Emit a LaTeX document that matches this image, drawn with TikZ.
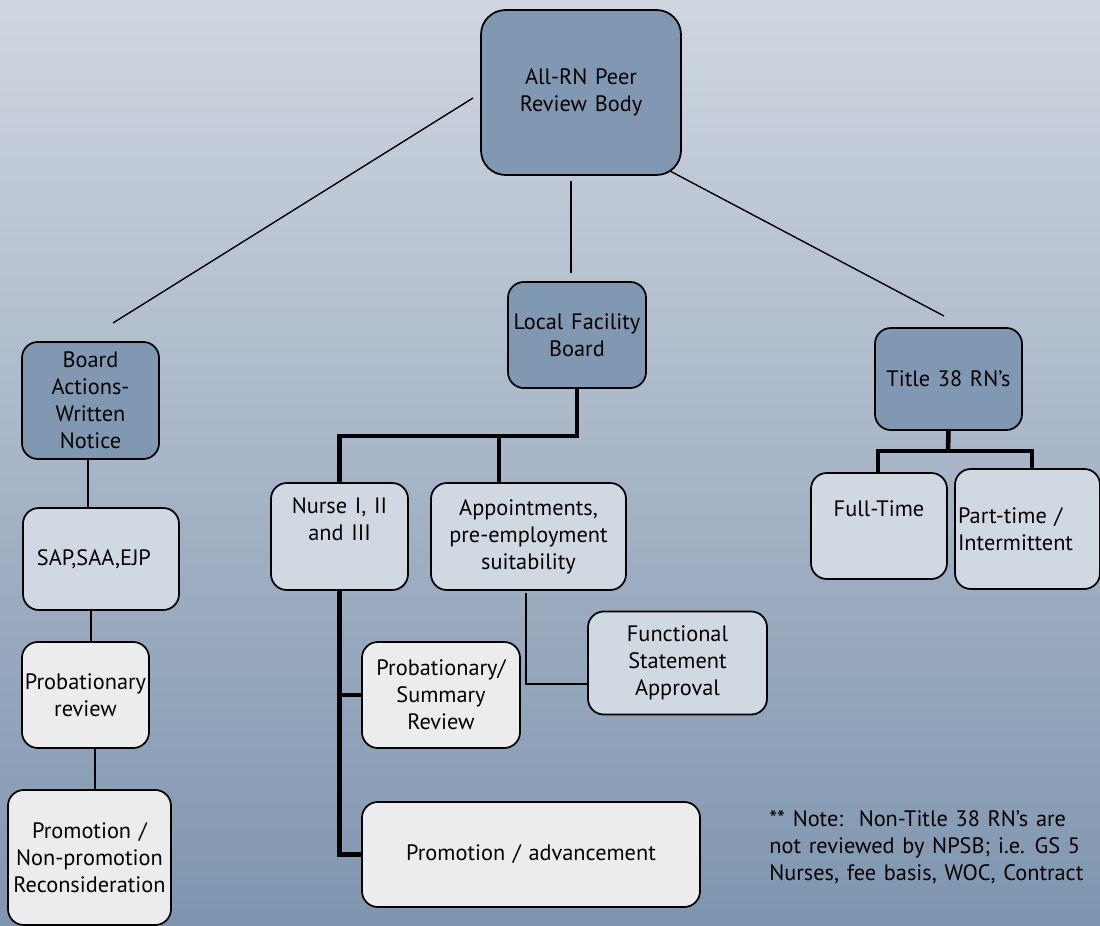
\documentclass[tikz,border=0pt]{standalone}
\usepackage{fontspec}
\setmainfont{PT Sans}[WordSpace=1.3]
\usepackage{tikz}
\usetikzlibrary{positioning}

\definecolor{bgtop}{HTML}{CFD6E0}
\definecolor{bgbot}{HTML}{7F95AF}
\definecolor{darkbox}{HTML}{8098B1}
\definecolor{lightbox}{HTML}{D0D8E2}
\definecolor{palebox}{HTML}{ECECEC}

\tikzset{
  box/.style={draw=black, line width=1pt, rounded corners=9pt, align=center,
    inner sep=0pt, font=\fontsize{12.7}{15.3}\selectfont},
  sz/.style 2 args={minimum width=#1*0.02cm, minimum height=#2*0.02cm},
  darkb/.style={box, fill=darkbox},
  lightb/.style={box, fill=lightbox},
  paleb/.style={box, fill=palebox},
  thin link/.style={draw=black, line width=0.8pt},
  thick link/.style={draw=black, line width=2.6pt}
}

\begin{document}
\begin{tikzpicture}[x=0.02cm, y=-0.02cm]
		\shade[top color=bgtop, bottom color=bgbot] (0,0) rectangle (1100,926);
		\useasboundingbox (0,0) rectangle (1100,926);

		% boxes
		\node[darkb, sz={200}{165}, rounded corners=14pt] (body) at (581,92.5) {All-RN Peer\\Review Body};
		\node[darkb, sz={137}{117}] (board) at (90.5,400.5) {Board\\Actions-\\Written\\Notice};
		\node[lightb, sz={156}{102}] (sap) at (101,559) {SAP,SAA,EJP\hspace{8pt}};
		\node[paleb, sz={127}{106}] (probrev) at (85.5,695) {Probationary\\review};
		\node[paleb, sz={163}{135}] (promo) at (89.5,857.5) {Promotion /\\Non-promotion\\Reconsideration};

		\node[darkb, sz={138}{106}] (lfb) at (577,335) {Local Facility\\Board};
		\node[lightb, sz={137}{107}] (nurse) at (339.5,536.5) {Nurse I, II\\and III\\\strut};
		\node[lightb, sz={195}{107}] (appt) at (528.5,536.5) {Appointments,\\pre-employment\\suitability};
		\node[lightb, sz={179}{103}] (func) at (677.5,663) {Functional\\Statement\\Approval};
		\node[paleb, sz={158}{106}] (psr) at (441,695) {Probationary/\\Summary\\Review};
		\node[paleb, sz={338}{105}] (adv) at (531,854.5) {Promotion / advancement};

		\node[darkb, sz={147}{102}] (title) at (948.5,379) {Title 38 RN's};
		\node[lightb, sz={136}{106}] (full) at (879,526) {Full-Time\\\strut};
		\node[lightb, sz={145}{120}, align=left, text width=139*0.02cm, inner xsep=3*0.02cm] (part) at (1027.5,529) {Part-time /\\Intermittent};

		\node[anchor=north west, align=left, inner sep=0pt, font=\fontsize{12.7}{15.3}\selectfont] (note) at (769,810)
			{** Note:\ \ Non-Title 38 RN's are\\not reviewed by NPSB; i.e. GS 5\\Nurses, fee basis, WOC, Contract};

		% free ends of the top lines
		\coordinate (bodyw) at (473,98);
		\coordinate (leftend) at (113,323);
		\coordinate (bodye) at (670,171);
		\coordinate (rightend) at (944,316);
		\coordinate (midtop) at (571,181);
		\coordinate (midend) at (571,273);

		\draw[thin link] (bodyw) -- (leftend);
		\draw[thin link] (bodye) -- (rightend);
		\draw[thin link] (midtop) -- (midend);

		% left column
		\draw[thin link] (board.south -| 88,0) -- (sap.north -| 88,0);
		\draw[thin link] (sap.south -| 91,0) -- (probrev.north -| 91,0);
		\draw[thin link] (probrev.south -| 95,0) -- (promo.north -| 95,0);

		% local facility board
		\coordinate (lfbbar) at (577,436);
		\draw[thick link] (lfb.south) -- (lfbbar) -- (lfbbar -| nurse.north) -- (nurse.north);
		\draw[thick link] (lfbbar -| 499,0) -- (appt.north -| 499,0);
		\draw[thick link] (nurse.south) -- (nurse.south |- adv.west) -- (adv.west);
		\draw[thick link] (nurse.south |- psr.west) -- (psr.west);
		\coordinate (apptdrop) at (526,593);
		\draw[thin link] (apptdrop) |- (func.west |- 0,684);

		% title 38
		\coordinate (titlebar) at (948,451);
		\draw[thick link] (title.south) -- (titlebar);
		\draw[thick link] (full.north -| 878,0) |- (titlebar) -| (part.north -| 1032,0);
	\end{tikzpicture}
\end{document}
